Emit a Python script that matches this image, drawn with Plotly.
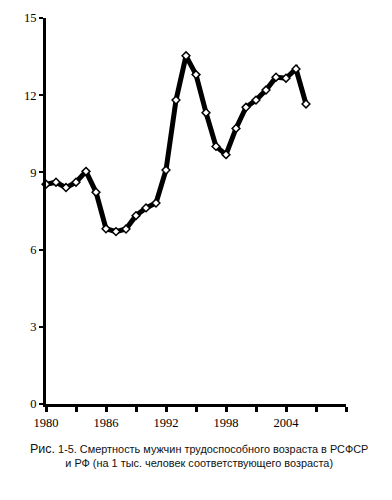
import plotly.graph_objects as go

years = list(range(1980, 2007))
mortality = [8.54, 8.62, 8.41, 8.62, 9.04, 8.23, 6.81, 6.70, 6.80, 7.32, 7.62, 7.81,
             9.09, 11.81, 13.53, 12.80, 11.32, 10.01, 9.69, 10.71, 11.53, 11.81,
             12.20, 12.70, 12.66, 13.02, 11.66]

x_tickvals = list(range(1980, 2011, 3))
x_ticktext = [str(v) if (v - 1980) % 6 == 0 and v <= 2004 else "" for v in x_tickvals]
y_tickvals = [0, 3, 6, 9, 12, 15]

caption = ("<span style='font-size:12.5px'>Рис.</span> 1-5. Смертность мужчин трудоспособного возраста в РСФСР<br>"
           "и РФ (на 1 тыс. человек соответствующего возраста)")

fig = go.Figure()
fig.add_trace(go.Scatter(
    x=years, y=mortality, mode="lines+markers",
    line=dict(color="black", width=5),
    marker=dict(symbol="diamond", size=6, color="white",
                line=dict(color="black", width=1.5)),
    cliponaxis=False, showlegend=False,
))

axis_font = dict(family="Liberation Serif, Times New Roman, serif", size=12.5, color="black")
fig.update_layout(
    width=392, height=500,
    margin=dict(l=46, r=46, t=18, b=96),
    paper_bgcolor="white", plot_bgcolor="white",
    xaxis=dict(range=[1980, 2010], tickvals=x_tickvals, ticktext=x_ticktext,
               showgrid=False, zeroline=False, showline=True, linecolor="black",
               linewidth=3, ticks="outside", ticklen=5, tickwidth=3, tickcolor="black",
               tickfont=axis_font),
    yaxis=dict(range=[0, 15], tickvals=y_tickvals, showgrid=False, zeroline=False,
               showline=True, linecolor="black", linewidth=3, ticks="outside",
               ticklen=4, tickwidth=2, tickcolor="black", tickfont=axis_font),
    annotations=[dict(text=caption, xref="paper", yref="paper", x=0.51, y=-0.093,
                      xanchor="center", yanchor="top", showarrow=False, align="center",
                      font=dict(family="Liberation Sans, Arial, sans-serif", size=10.9,
                                color="#111111"))],
)

fig.write_html("out.html")
